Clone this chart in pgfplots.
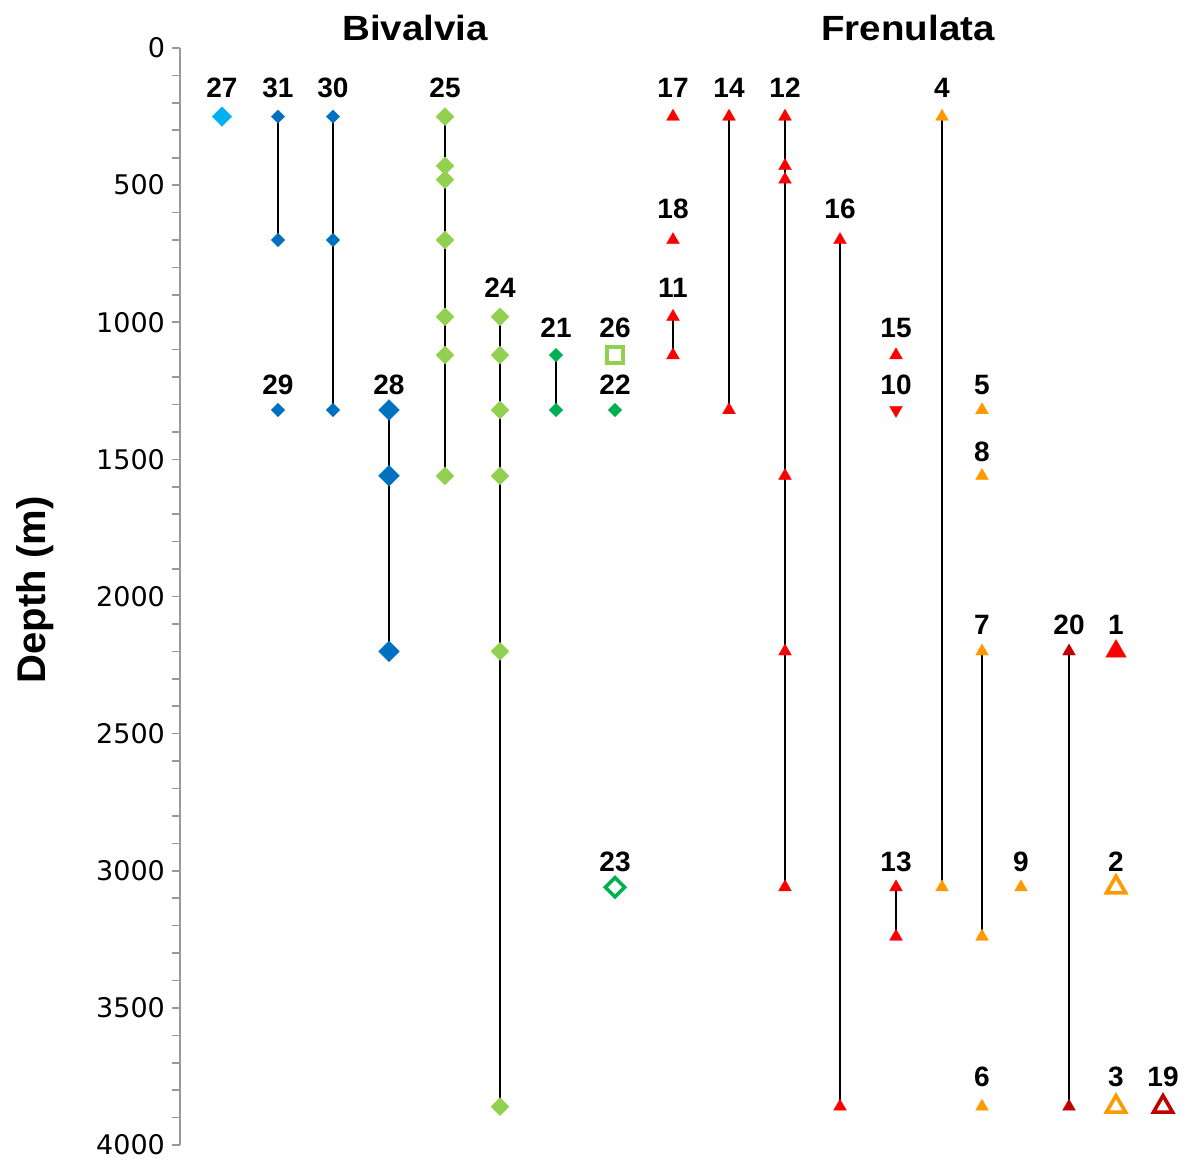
\documentclass[border=0pt]{standalone}
\usepackage{pgfplots}
\pgfplotsset{compat=1.18}
\usepackage{fontspec}
\setmainfont{Liberation Sans}
\newfontfamily\tickfont{DejaVu Sans}
\definecolor{cA}{HTML}{00B0F0}
\definecolor{cB}{HTML}{0070C0}
\definecolor{cLG}{HTML}{92D050}
\definecolor{cG}{HTML}{00B050}
\definecolor{cR}{HTML}{FF0000}
\definecolor{cO}{HTML}{FF9900}
\definecolor{cDR}{HTML}{C00000}
\pgfplotsset{
 dia/.style 2 args={black, line width=1.3pt, mark=square*, mark size=#2, mark options={solid, rotate=45, fill=#1, draw=#1, line width=0.1pt}},
 tri/.style 2 args={black, line width=1.3pt, mark=triangle*, mark size=#2, mark options={solid, fill=#1, draw=#1, line width=0.1pt}},
 dtri/.style 2 args={black, line width=1.3pt, mark=triangle*, mark size=#2, mark options={solid, rotate=180, fill=#1, draw=#1, line width=0.1pt}},
 otri/.style 2 args={black, line width=1.3pt, mark=triangle*, mark size=#2, mark options={solid, fill=white, draw=#1, line width=1.8pt}},
 osq/.style 2 args={black, line width=1.3pt, mark=square*, mark size=#2, mark options={solid, fill=white, draw=#1, line width=1.9pt}},
 odia/.style 2 args={black, line width=1.3pt, mark=square*, mark size=#2, mark options={solid, rotate=45, fill=white, draw=#1, line width=1.8pt}},
}
\begin{document}
\begin{tikzpicture}
\begin{axis}[
  name=ax,
  scale only axis,
  width=503.5pt, height=548.5pt,
  xmin=180, xmax=1187,
  ymin=0, ymax=4000,
  y dir=reverse,
  axis x line=none,
  axis y line*=left,
  axis line style={draw=gray!80, line width=0.8pt},
  ytick={0,500,...,4000},
  minor y tick num=4,
  tick align=outside,
  major tick length=4pt, minor tick length=4pt,
  tick style={draw=gray!80, line width=0.8pt},
  scaled y ticks=false,
  /pgf/number format/1000 sep={},
  /pgf/number format/assume math mode=true,
  yticklabel style={font=\tickfont\fontsize{13.5}{15}\selectfont, text=black},
  clip=false,
]
% Bivalvia
\addplot[dia={cA}{3.5pt}] coordinates {(222,250)};
\addplot[dia={cB}{2.4pt}] coordinates {(278,250)(278,700)};
\addplot[dia={cB}{2.4pt}] coordinates {(333,250)(333,700)(333,1320)};
\addplot[dia={cB}{2.4pt}] coordinates {(278,1320)};
\addplot[dia={cB}{3.7pt}] coordinates {(389,1320)(389,1560)(389,2200)};
\addplot[dia={cLG}{3.2pt}] coordinates {(445,250)(445,430)(445,480)(445,700)(445,980)(445,1120)(445,1560)};
\addplot[dia={cLG}{3.2pt}] coordinates {(500,980)(500,1120)(500,1320)(500,1560)(500,2200)(500,3860)};
\addplot[dia={cG}{2.4pt}] coordinates {(556,1120)(556,1320)};
\addplot[osq={cLG}{4pt}] coordinates {(615,1120)};
\addplot[dia={cG}{2.4pt}] coordinates {(615,1320)};
\addplot[odia={cG}{3.4pt}] coordinates {(615,3060)};
% Frenulata
\addplot[tri={cR}{3.75pt}] coordinates {(673,250)};
\addplot[tri={cR}{3.75pt}] coordinates {(673,700)};
\addplot[tri={cR}{3.75pt}] coordinates {(673,980)(673,1120)};
\addplot[tri={cR}{3.75pt}] coordinates {(729,250)(729,1320)};
\addplot[tri={cR}{3.75pt}] coordinates {(785,250)(785,430)(785,480)(785,1560)(785,2200)(785,3060)};
\addplot[tri={cR}{3.75pt}] coordinates {(840,700)(840,3860)};
\addplot[tri={cR}{3.75pt}] coordinates {(896,1120)};
\addplot[dtri={cR}{3.75pt}] coordinates {(896,1320)};
\addplot[tri={cR}{3.75pt}] coordinates {(896,3060)(896,3240)};
\addplot[tri={cO}{3.75pt}] coordinates {(942,250)(942,3060)};
\addplot[tri={cO}{3.75pt}] coordinates {(982,1320)};
\addplot[tri={cO}{3.75pt}] coordinates {(982,1560)};
\addplot[tri={cO}{3.75pt}] coordinates {(982,2200)(982,3240)};
\addplot[tri={cO}{3.75pt}] coordinates {(982,3860)};
\addplot[tri={cO}{3.75pt}] coordinates {(1021,3060)};
\addplot[tri={cDR}{3.75pt}] coordinates {(1069,2200)(1069,3860)};
\addplot[tri={cR}{6pt}] coordinates {(1116,2200)};
\addplot[otri={cO}{5.5pt}] coordinates {(1116,3060)};
\addplot[otri={cO}{5.5pt}] coordinates {(1116,3860)};
\addplot[otri={cDR}{5.5pt}] coordinates {(1163,3860)};
% labels
\addplot[only marks, mark=none, nodes near coords, point meta=explicit symbolic,
  nodes near coords style={anchor=center, text=black, font=\bfseries\fontsize{14}{16}\selectfont}]
  table[meta=t] {
x y t
222 146 27
278 146 31
333 146 30
445 146 25
673 146 17
729 146 14
785 146 12
942 146 4
673 587 18
840 587 16
500 875 24
673 875 11
556 1021 21
615 1021 26
896 1021 15
278 1229 29
389 1229 28
615 1229 22
896 1229 10
982 1229 5
982 1473 8
982 2104 7
1069 2104 20
1116 2104 1
615 2968 23
896 2968 13
1021 2968 9
1116 2968 2
982 3752 6
1116 3752 3
1163 3752 19
};
\node[font=\bfseries\fontsize{17.5}{20}\selectfont, xscale=1.1] at (axis cs:415,-73) {Bivalvia};
\node[font=\bfseries\fontsize{17.5}{20}\selectfont, xscale=1.1] at (axis cs:908,-73) {Frenulata};
\node[font=\bfseries\fontsize{20}{22}\selectfont, rotate=90] at (axis cs:35,1976) {Depth (m)};
\end{axis}
\pgfresetboundingbox
\path[use as bounding box] ([shift={(-90pt,-8pt)}]ax.south west) rectangle ([shift={(0pt,24pt)}]ax.north east);
\end{tikzpicture}
\end{document}
